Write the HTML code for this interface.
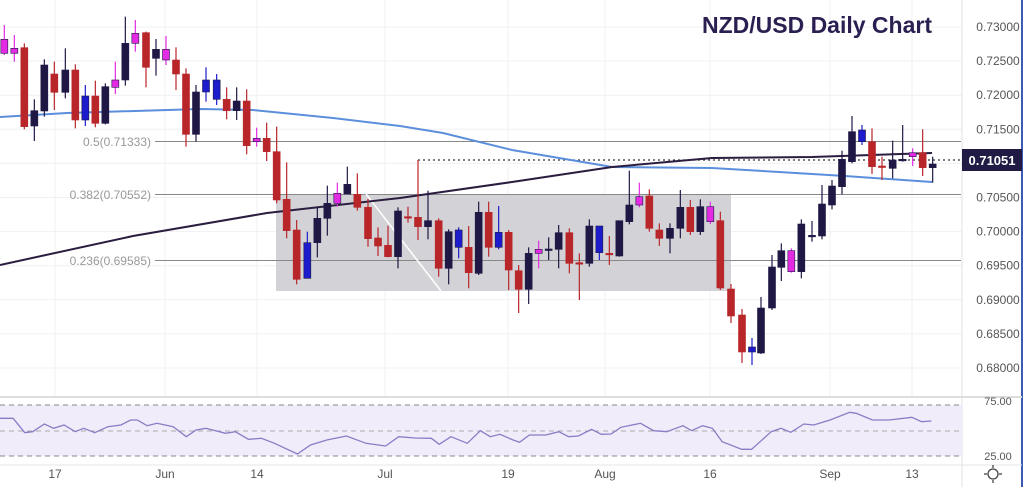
<!DOCTYPE html>
<html><head><meta charset="utf-8"><style>
html,body{margin:0;padding:0;background:#fff;width:1024px;height:487px;overflow:hidden}
svg text{font-family:"Liberation Sans",sans-serif}
</style></head><body>
<svg id="s" width="1024" height="487" xmlns="http://www.w3.org/2000/svg">
<rect width="1024" height="487" fill="#fff"/>
<g id="grid" stroke="#f0f0f3" stroke-width="1"></g>
<rect x="276" y="194" width="455" height="97" fill="#d3d3d7"/>
<line x1="155" y1="141.5" x2="961" y2="141.5" stroke="#888" stroke-width="1"/>
<line x1="155" y1="194.5" x2="961" y2="194.5" stroke="#888" stroke-width="1"/>
<line x1="155" y1="260.5" x2="961" y2="260.5" stroke="#888" stroke-width="1"/>
<text x="151" y="146" font-size="12" fill="#999" text-anchor="end">0.5(0.71333)</text>
<text x="151" y="199" font-size="12" fill="#999" text-anchor="end">0.382(0.70552)</text>
<text x="151" y="265" font-size="12" fill="#999" text-anchor="end">0.236(0.69585)</text>
<line x1="366" y1="194" x2="441" y2="291" stroke="#fff" stroke-width="1.5"/>
<line x1="418" y1="160" x2="961" y2="160" stroke="#333" stroke-width="1.3" stroke-dasharray="2,3"/>
<polyline fill="none" stroke="#5b8fdc" stroke-width="2" points="0,117 67,113 200,109 253,110 333,118 400,126 443,133 512,150 612,167 712,168 779,172 845,176 932,182"/>
<polyline fill="none" stroke="#2a1d3f" stroke-width="2" points="0,265 133,236 267,213 400,198 512,182 612,167 712,158 812,157 932,153"/>
<g id="candles"></g>
<text x="932" y="33" font-size="23" font-weight="bold" fill="#2a1f50" text-anchor="end">NZD/USD Daily Chart</text>
<line x1="962" y1="0" x2="962" y2="487" stroke="#e0e0e4"/>
<line x1="1022" y1="0" x2="1022" y2="487" stroke="#3b5bb5" stroke-width="2"/>
<g id="yax" font-size="12" fill="#555" text-anchor="middle"></g>
<rect x="962" y="149" width="60" height="22" fill="#1f1b45"/>
<text x="992" y="165" font-size="13" font-weight="bold" fill="#fff" text-anchor="middle">0.71051</text>
<line x1="0" y1="397" x2="1022" y2="397" stroke="#ddd" stroke-width="2"/>
<rect x="0" y="405" width="962" height="51" fill="#f1ecfa"/>
<line x1="0" y1="405" x2="962" y2="405" stroke="#888" stroke-dasharray="5,4"/>
<line x1="0" y1="431" x2="962" y2="431" stroke="#aaa" stroke-dasharray="5,4"/>
<line x1="0" y1="456" x2="962" y2="456" stroke="#888" stroke-dasharray="5,4"/>
<polyline id="rsi" fill="none" stroke="#8a7cc4" stroke-width="1.3"/>
<text x="998" y="405" font-size="11" fill="#555" text-anchor="middle">75.00</text>
<text x="998" y="460" font-size="11" fill="#555" text-anchor="middle">25.00</text>
<line x1="0" y1="465" x2="1022" y2="465" stroke="#e4e4e8"/>
<g id="xax" font-size="12" fill="#555" text-anchor="middle"></g>
<circle cx="993" cy="474" r="5" fill="none" stroke="#444" stroke-width="1.3"/>
<g stroke="#444" stroke-width="1.3"><line x1="993" y1="465" x2="993" y2="468"/><line x1="993" y1="480" x2="993" y2="483"/><line x1="984" y1="474" x2="987" y2="474"/><line x1="999" y1="474" x2="1002" y2="474"/></g>
</svg>
<script>
var NS="http://www.w3.org/2000/svg";
function el(p,t,a,txt){var e=document.createElementNS(NS,t);for(var k in a)e.setAttribute(k,a[k]);if(txt)e.textContent=txt;document.getElementById(p).appendChild(e);return e;}
var C={r:"#b8262a",n:"#1f1845",b:"#1c1ccc",m:"#e22be2"};
// grid
[55,165,257,385,508,605,710,830,912].forEach(function(x){el("grid","line",{x1:x,y1:0,x2:x,y2:397});el("grid","line",{x1:x,y1:405,x2:x,y2:456});});
var labs=["0.73000","0.72500","0.72000","0.71500","0.71000","0.70500","0.70000","0.69500","0.69000","0.68500","0.68000"];
labs.forEach(function(l,i){var y=27+i*34.1;el("grid","line",{x1:0,y1:y,x2:962,y2:y});if(l!="0.71000")el("yax","text",{x:998,y:y+4},l);});
[["17",55],["Jun",165],["14",257],["Jul",385],["19",508],["Aug",605],["16",710],["Sep",830],["13",912]].forEach(function(a){el("xax","text",{x:a[1],y:478},a[0]);});
// candles zoom1: [x_zoom, type, bodyTop, bodyBot, wickTop, wickBot] (zoom coords /3)
var z1=[[13,"m",118,160,75,165],[43,"m",145,160,105,185],[73,"r",143,380,130,388],[103,"n",332,378,298,423],[133,"n",195,333,178,350],[163,"r",222,277,185,330],[196,"n",210,277,145,295],[226,"r",210,360,193,385],[256,"b",288,360,255,378],[286,"r",288,370,242,382],[316,"n",260,370,250,373],[346,"m",240,262,185,282],[376,"n",130,240,50,257],[406,"m",100,130,60,155],[438,"r",98,202,95,262],[468,"n",148,175,117,227],[498,"m",148,180,108,195],[528,"r",180,222,142,270],[558,"r",222,403,205,440],[588,"n",276,403,255,425],[618,"b",240,276,202,305],[650,"b",240,298,222,315],[680,"r",298,332,262,358],[710,"n",303,332,262,360],[740,"r",303,437,268,463],[770,"m",415,425,383,440],[800,"r",415,455,368,483],[830,"r",455,600,380,610],[860,"r",598,692,487,715],[890,"r",690,838,660,853],[922,"b",728,835,695,835],[952,"n",655,728,620,772],[982,"n",610,655,557,707],[1012,"m",580,610,548,620],[1042,"n",553,582,500,582],[1072,"r",583,622,520,632],[1104,"r",622,716,597,740],[1134,"r",714,738,682,768],[1164,"r",736,770,677,772],[1194,"n",633,770,622,805],[1224,"r",650,654,620,668],[1254,"r",652,680,480,720],[1284,"n",662,680,572,718],[1316,"r",662,805,655,830],[1346,"n",695,805,688,853],[1376,"b",690,742,682,775],[1406,"r",742,818,678,865],[1436,"n",637,820,605,825],[1466,"r",637,742,605,770],[1496,"b",697,742,618,748],[1526,"r",697,810,690,870]];
var list=[];
z1.forEach(function(c){list.push([c[0]/3,c[1],c[2]/3,c[3]/3,c[4]/3,c[5]/3]);});
var z2=[[20,"r",812,868,795,939],[50,"n",760,868,742,912],[80,"m",748,760,722,805],[110,"n",747,750,712,780],[140,"n",698,748,675,805],[172,"r",698,790,685,820],[202,"r",788,792,760,900],[232,"n",678,790,658,800],[262,"b",678,758,678,780],[292,"r",760,764,708,795],[322,"n",662,768,662,770],[352,"n",615,665,512,673],[382,"m",590,615,548,622],[412,"r",588,685,568,695],[442,"r",690,715,670,738],[474,"n",685,715,670,760],[505,"n",622,685,570,715],[535,"r",622,695,600,705],[565,"n",620,695,598,705],[595,"m",620,665,605,672],[625,"r",662,864,635,870]];
z2.forEach(function(c){list.push([512+c[0]/3,c[1],c[2]/3,c[3]/3,c[4]/3,c[5]/3]);});
[[731,"r",289,316,284,323],[742,"r",315,352,309,363],[752,"b",347,352,338,365],[761,"n",308,353,297,354],[772,"n",267,308,255,310]].forEach(function(c){list.push(c);});
var z3=[[808,"n",752,802,730,843],[838,"m",752,815,745,818],[868,"n",672,815,658,835],[900,"n",706,710,663,725],[930,"n",612,708,555,718],[960,"n",558,615,540,628],[990,"n",478,560,452,583],[1020,"n",395,485,348,490],[1050,"b",390,425,375,435],[1080,"r",425,500,385,522],[1110,"r",498,502,470,540],[1142,"n",480,505,422,535],[1172,"n",478,482,375,485],[1202,"m",458,470,445,498],[1232,"r",458,503,388,528],[1262,"n",492,503,470,548]];
z3.forEach(function(c){list.push([512+c[0]/3,c[1],c[2]/3,c[3]/3,c[4]/3,c[5]/3]);});
list.forEach(function(c){var col=C[c[1]];var x=c[0];
el("candles","line",{x1:x,y1:c[4],x2:x,y2:c[5],stroke:col,"stroke-width":1.2});
var h=Math.max(c[3]-c[2],1.5);
el("candles","rect",{x:x-3.5,y:c[2],width:7,height:h,fill:col,stroke:(c[1]=="m"||c[1]=="b")?"#1f1845":col,"stroke-width":0.6});});
// RSI
var r=[[0,415],[20,415],[38,458],[50,455],[68,432],[82,445],[98,435],[115,455],[128,445],[145,458],[165,440],[185,435],[200,420],[210,420],[225,437],[240,430],[265,440],[285,470],[300,450],[315,445],[345,460],[360,455],[380,478],[400,475],[420,490],[455,522],[475,495],[500,480],[530,468],[560,490],[590,498],[610,470],[635,474],[660,475],[672,493],[690,470],[715,490],[735,452],[750,470],[765,463],[785,480],[795,487],[810,465],[835,465],[855,455],[870,470],[885,468],[905,448],[920,463],[935,462],[950,442],[980,430],[1000,452],[1020,455],[1045,437],[1058,452],[1075,437],[1090,445],[1105,485],[1135,508],[1150,508],[1180,455],[1195,445],[1210,457],[1230,432],[1245,435],[1270,420],[1300,397],[1310,400],[1335,420],[1360,420],[1395,412],[1410,425],[1425,423]];
document.getElementById("rsi").setAttribute("points",r.map(function(p){return (p[0]/1.53).toFixed(1)+","+(p[1]/3+280).toFixed(1);}).join(" "));
</script>
</body></html>
